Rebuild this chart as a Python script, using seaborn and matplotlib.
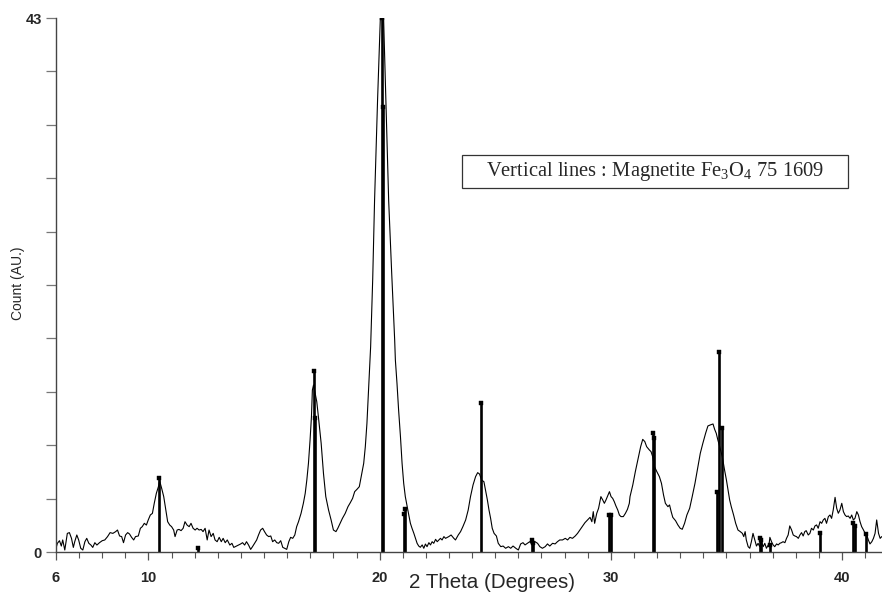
import matplotlib
matplotlib.use("Agg")
import numpy as np
import pandas as pd
import matplotlib.pyplot as plt
import seaborn as sns
from matplotlib.ticker import FixedLocator, MultipleLocator, NullFormatter
from matplotlib.patches import Rectangle

# ---------------- data ----------------
seg1_theta = [5.97, 6.06, 6.15, 6.23, 6.29, 6.38, 6.49, 6.58, 6.67, 6.75,
              6.81, 6.90, 6.98, 7.07, 7.16, 7.25, 7.33, 7.42, 7.51, 7.59,
              7.68, 7.77, 7.88, 8.00, 8.11, 8.23, 8.34, 8.46, 8.58, 8.66,
              8.75, 8.84, 8.92, 9.01, 9.10, 9.18, 9.27, 9.36, 9.44, 9.56,
              9.65, 9.73, 9.82, 9.91, 9.99, 10.08, 10.17, 10.25, 10.34, 10.43,
              10.48, 10.57, 10.66, 10.75, 10.83, 10.92, 11.00, 11.09, 11.15, 11.24,
              11.32, 11.41, 11.50, 11.58, 11.67, 11.76, 11.84, 11.93, 12.02, 12.10,
              12.19, 12.28, 12.36, 12.45, 12.54, 12.62, 12.71, 12.80, 12.88, 12.97,
              13.06, 13.15, 13.23, 13.32, 13.41, 13.52, 13.61, 13.69, 13.81, 13.90,
              13.98, 14.07, 14.16, 14.24, 14.33, 14.42, 14.50, 14.59, 14.68, 14.76,
              14.85, 14.94, 15.02, 15.11, 15.20, 15.29, 15.37, 15.46, 15.55, 15.63,
              15.72, 15.81, 15.89, 15.98, 16.07, 16.15, 16.24, 16.33, 16.41]
seg1_count = [0.11, 0.70, 0.91, 0.48, 0.97, 0.16, 1.50, 1.56, 1.10, 0.37,
              0.83, 1.37, 0.97, 0.30, 0.16, 0.83, 1.10, 0.70, 0.56, 0.37,
              0.75, 0.56, 0.75, 0.91, 0.97, 1.24, 1.56, 1.50, 1.64, 1.77,
              1.29, 1.24, 0.75, 1.37, 1.56, 1.45, 1.18, 0.97, 1.24, 1.29,
              1.91, 2.04, 2.31, 2.17, 2.58, 2.98, 3.11, 3.92, 4.72, 5.26,
              5.74, 5.13, 4.46, 3.38, 2.44, 2.17, 2.04, 1.77, 1.24, 1.77,
              1.82, 1.72, 1.91, 2.44, 2.17, 2.04, 2.31, 1.91, 1.77, 1.91,
              1.77, 1.82, 1.64, 1.91, 0.97, 1.77, 1.24, 1.50, 0.97, 0.83,
              1.18, 0.83, 1.10, 0.75, 0.97, 0.56, 0.70, 0.37, 0.48, 0.56,
              0.64, 0.75, 0.56, 0.83, 0.56, 0.21, 0.43, 0.70, 0.97, 1.37,
              1.77, 1.91, 1.64, 1.37, 1.24, 1.29, 0.83, 0.97, 0.75, 0.70,
              0.91, 0.37, 0.30, 0.21, 0.83, 1.18, 1.10, 1.37, 2.04]

seg2_theta = [16.49, 16.60, 16.70, 16.78, 16.85, 16.92, 16.99, 17.05, 17.09, 17.14,
              17.21, 17.28, 17.35, 17.47, 17.57, 17.67, 17.79, 17.90, 18.00, 18.11,
              18.19, 18.29, 18.39, 18.51, 18.63, 18.73, 18.83, 18.92, 19.02, 19.12,
              19.20, 19.31, 19.38, 19.45, 19.52, 19.57, 19.61, 19.70, 19.78, 19.91,
              20.03, 20.10, 20.17, 20.27, 20.39, 20.52, 20.65, 20.68, 20.75, 20.82,
              20.90, 20.97, 21.04, 21.11, 21.19, 21.26, 21.33, 21.40, 21.48, 21.55,
              21.62, 21.69, 21.76, 21.84, 21.91, 21.98, 22.05, 22.13, 22.20, 22.27,
              22.34, 22.42, 22.49, 22.56, 22.63, 22.70, 22.78, 22.85, 22.99]
seg2_count = [2.44, 3.11, 3.92, 4.72, 5.80, 7.14, 9.02, 10.90, 13.04, 13.45,
              12.78, 12.10, 10.90, 8.75, 6.33, 4.46, 3.38, 2.58, 1.77, 1.64,
              1.91, 2.31, 2.71, 3.11, 3.65, 3.97, 4.32, 4.86, 5.05, 5.26,
              6.07, 7.14, 8.48, 10.36, 13.04, 14.92, 16.53, 22.0, 28.3, 36.4,
              43.0, 43.5, 43.0, 36.4, 28.3, 22.5, 17.07, 15.46, 13.58, 11.43,
              9.29, 7.14, 5.53, 4.46, 3.65, 2.98, 2.31, 1.91, 1.50, 1.10,
              0.70, 0.48, 0.38, 0.57, 0.30, 0.64, 0.43, 0.75, 0.57, 0.83,
              0.70, 1.02, 0.83, 0.97, 1.10, 0.97, 1.24, 1.10, 1.24]

seg3_theta = [23.09, 23.21, 23.28, 23.40, 23.50, 23.60, 23.72, 23.83, 23.93, 24.04,
              24.15, 24.24, 24.32, 24.41, 24.51, 24.58, 24.66, 24.73, 24.80, 24.87,
              24.95, 25.05, 25.13, 25.24, 25.34, 25.45, 25.57, 25.67, 25.77, 25.89,
              26.00, 26.10, 26.20, 26.29, 26.39, 26.49, 26.61, 26.72, 26.83, 26.93,
              27.04, 27.16, 27.26, 27.36, 27.48, 27.59, 27.69, 27.79, 27.91, 28.03,
              28.13, 28.23, 28.34, 28.46, 28.56, 28.66, 28.78, 28.88, 28.99, 29.10,
              29.18, 29.24, 29.30, 29.39, 29.47, 29.57, 29.65, 29.72, 29.79, 29.88,
              29.94, 30.01, 30.08, 30.15, 30.22, 30.30, 30.37, 30.44, 30.54, 30.63,
              30.72, 30.80]
seg3_count = [1.37, 1.10, 0.97, 1.37, 1.64, 2.04, 2.58, 3.38, 4.46, 5.40,
              6.07, 6.39, 6.28, 5.80, 5.66, 4.99, 4.19, 3.38, 2.71, 1.91,
              1.50, 1.29, 0.70, 0.43, 0.48, 0.30, 0.43, 0.30, 0.48, 0.30,
              0.16, 0.65, 0.75, 0.57, 0.70, 0.83, 0.57, 0.83, 0.70, 0.43,
              0.30, 0.43, 0.65, 0.48, 0.70, 0.65, 0.83, 0.97, 0.97, 1.10,
              0.97, 1.18, 1.10, 1.29, 1.50, 1.77, 2.10, 2.36, 2.58, 2.79,
              2.44, 3.25, 2.31, 3.11, 3.52, 4.46, 4.19, 3.92, 4.19, 4.59,
              4.86, 4.46, 4.32, 4.05, 3.71, 3.38, 2.98, 2.85, 2.85, 3.11,
              3.44, 3.92]

seg4_theta = [30.83, 30.95, 31.06, 31.18, 31.29, 31.38, 31.47, 31.55, 31.67, 31.74,
              31.81, 31.89, 31.99, 32.10, 32.19, 32.28, 32.36, 32.47, 32.54, 32.61,
              32.68, 32.80, 32.90, 33.00, 33.09, 33.19, 33.29, 33.41, 33.52, 33.64,
              33.77, 33.87, 33.98, 34.10, 34.20, 34.30, 34.42, 34.49, 34.56, 34.63,
              34.71, 34.82, 34.92, 35.00, 35.07, 35.14, 35.21, 35.31, 35.40, 35.50,
              35.60, 35.69, 35.75, 35.81, 35.86, 35.94, 36.01, 36.08, 36.15, 36.23,
              36.30, 36.37, 36.44, 36.51, 36.59, 36.66, 36.73, 36.85]
seg4_count = [4.46, 5.40, 6.47, 7.54, 8.48, 9.07, 8.89, 8.48, 8.21, 8.08,
              7.68, 6.87, 6.47, 6.07, 5.53, 4.59, 3.92, 3.65, 3.79, 3.25,
              2.79, 2.52, 2.18, 1.91, 1.83, 2.31, 2.98, 3.52, 4.46, 5.53,
              6.87, 7.95, 8.75, 9.56, 10.15, 10.23, 10.31, 9.88, 9.56, 9.02,
              8.48, 7.68, 6.60, 5.80, 4.99, 4.19, 3.65, 2.98, 2.31, 1.77,
              1.64, 1.50, 1.24, 1.64, 0.97, 0.43, 0.30, 0.83, 1.50, 0.97,
              0.48, 0.70, 0.43, 0.83, 0.43, 0.70, 0.30, 0.70]

seg5_theta = [36.88, 36.95, 37.02, 37.09, 37.17, 37.24, 37.31, 37.38, 37.45, 37.53,
              37.60, 37.67, 37.74, 37.82, 37.89, 37.96, 38.03, 38.11, 38.18, 38.25,
              38.32, 38.39, 38.45, 38.54, 38.61, 38.68, 38.76, 38.83, 38.90, 38.97,
              39.05, 39.12, 39.19, 39.26, 39.33, 39.41, 39.48, 39.55, 39.62, 39.70,
              39.77, 39.84, 39.91, 39.99, 40.06, 40.13, 40.20, 40.27, 40.35, 40.42,
              40.49, 40.56, 40.64, 40.71, 40.78, 40.85, 40.93, 41.00, 41.07, 41.14,
              41.21, 41.29, 41.36, 41.43, 41.50, 41.58, 41.65, 41.72]
seg5_count = [1.18, 0.83, 0.57, 0.43, 0.65, 0.57, 0.70, 0.75, 0.83, 0.75,
              1.10, 1.37, 2.10, 1.77, 1.37, 1.29, 1.24, 1.10, 1.37, 1.56,
              1.29, 1.64, 1.72, 1.37, 1.50, 1.91, 1.77, 2.10, 2.18, 1.91,
              2.44, 2.31, 2.58, 2.71, 2.31, 2.85, 2.98, 2.71, 3.38, 4.40,
              3.52, 3.12, 3.38, 3.92, 3.25, 2.98, 2.85, 2.90, 2.71, 2.98,
              2.58, 2.71, 3.25, 2.98, 2.44, 2.04, 1.77, 1.50, 1.37, 0.97,
              0.65, 0.83, 1.10, 1.50, 2.58, 1.50, 1.10, 1.24]

# Magnetite Fe3O4 75-1609 reference lines
ref_theta = [10.46, 12.13, 17.14, 17.21, 20.10, 20.14, 21.06, 21.11, 24.38,
             26.57, 26.64, 29.93, 30.02, 31.82, 31.87, 34.60, 34.70, 34.82,
             36.44, 36.50, 36.88, 39.05, 40.48, 40.56, 41.03]
ref_count = [5.93, 0.35, 14.6, 10.8, 43.0, 35.8, 3.1, 3.45, 12.0,
             0.95, 0.75, 3.0, 3.0, 9.6, 9.2, 4.86, 16.1, 10.0,
             1.1, 1.0, 0.57, 1.5, 2.3, 2.1, 1.45]

x_major_ticks = [6, 10, 20, 30, 40]
y_major_ticks = [0, 43]
x_label = "2 Theta (Degrees)"
y_label = "Count (AU.)"
box_text = r"Vertical lines : Magnetite Fe$_\mathregular{3}$O$_\mathregular{4}$ 75 1609"

# ---------------- figure ----------------
sns.set_style("ticks")
plt.rcParams['font.family'] = ['Liberation Sans', 'DejaVu Sans']

theta = seg1_theta + seg2_theta + seg3_theta + seg4_theta + seg5_theta
count = seg1_count + seg2_count + seg3_count + seg4_count + seg5_count
profile = pd.DataFrame({"two_theta": theta, "count": count})
refs = pd.DataFrame({"two_theta": ref_theta, "count": ref_count})

W, H = 882, 597
fig = plt.figure(figsize=(W / 100, H / 100), dpi=100)
ax = fig.add_axes([56 / W, 1 - 552 / H, (W - 56) / W, (552 - 18) / H])

sns.lineplot(data=profile, x="two_theta", y="count", ax=ax, color="black",
             lw=0.8, sort=False, estimator=None)
ax.vlines(refs["two_theta"], 0, refs["count"], color="black", lw=1.9)
sns.scatterplot(data=refs, x="two_theta", y="count", ax=ax, marker="s",
                s=10, color="black", edgecolor="black", linewidth=0.3)

ax.set_xlim(6, 41.73)
ax.set_ylim(0, 43)

sns.despine(ax=ax)
for side in ("left", "bottom"):
    ax.spines[side].set_color("#444444")
    ax.spines[side].set_linewidth(1.0)

ax.xaxis.set_major_locator(FixedLocator(x_major_ticks))
ax.xaxis.set_minor_locator(MultipleLocator(1))
ax.yaxis.set_major_locator(FixedLocator(y_major_ticks))
ax.yaxis.set_minor_locator(FixedLocator([4.3 * i for i in range(1, 10)]))
ax.yaxis.set_minor_formatter(NullFormatter())
ax.xaxis.set_minor_formatter(NullFormatter())

ax.tick_params(axis="x", which="major", length=6, width=0.9, color="#555555",
               pad=8, labelsize=10.5)
ax.tick_params(axis="x", which="minor", length=4, width=0.8, color="#555555")
ax.tick_params(axis="y", which="both", length=7, width=0.9, color="#777777",
               pad=3, labelsize=10.5)
for lab in ax.get_xticklabels() + ax.get_yticklabels():
    lab.set_fontweight("bold")

ax.set_xlabel(x_label, fontsize=14.8)
ax.set_ylabel(y_label, fontsize=10)
ax.xaxis.set_label_coords(0.528, -0.040)
ax.yaxis.set_label_coords(-0.037, 0.504)

ax.add_patch(Rectangle((0.4915, 0.6816), 0.4673, 0.0618, transform=ax.transAxes,
                       fill=False, edgecolor="#333333", lw=0.9))
ax.text(0.725, 0.712, box_text, transform=ax.transAxes, ha="center", va="center",
        fontsize=14.8, family="Liberation Serif")

fig.savefig("out.png", dpi=100)
